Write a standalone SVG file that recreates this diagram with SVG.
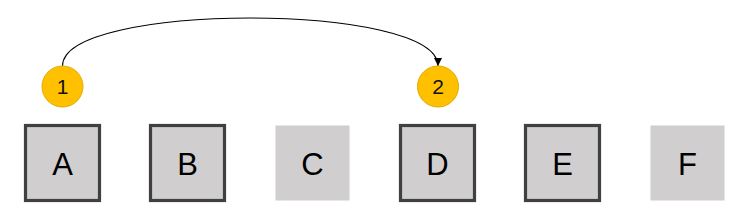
<svg xmlns="http://www.w3.org/2000/svg" width="753" height="223" viewBox="0 0 753 223">
<style>
.box{fill:#D0CECE}
.bd{stroke:#404040;stroke-width:3.2}
.lbl{font-family:"Liberation Sans",Arial,sans-serif;font-size:31px;fill:#000;text-anchor:middle}
.badge{fill:#FFC000;stroke:#E3AA00;stroke-width:1}
.num{font-family:"Liberation Sans",Arial,sans-serif;font-size:21px;fill:#111;text-anchor:middle}
.conn{fill:none;stroke:#000;stroke-width:1.1}
</style>
<defs>
<marker id="ah" viewBox="0 0 10 10" refX="10" refY="5" markerWidth="8" markerHeight="8" markerUnits="userSpaceOnUse" orient="auto">
<path d="M0,0 L10,5 L0,10 z" fill="#000"/>
</marker>
</defs>
<rect width="753" height="223" fill="#fff"/>
<g id="connectors">
<path class="conn" d="M62.5,66 C62.5,2 438,2 438,66" marker-end="url(#ah)"/>
</g>
<g id="badge1"><circle class="badge" cx="62.5" cy="86.5" r="20.5"/><text class="num" x="62.5" y="94">1</text></g>
<g id="badge2"><circle class="badge" cx="438" cy="86.5" r="20.5"/><text class="num" x="438" y="94">2</text></g>
<g id="A"><rect class="box bd" x="25.5" y="125.5" width="74" height="75"/><text class="lbl" x="62.5" y="175">A</text></g>
<g id="B"><rect class="box bd" x="150.5" y="125.5" width="74" height="75"/><text class="lbl" x="187.5" y="175">B</text></g>
<g id="C"><rect class="box" x="275.5" y="125.5" width="74" height="75"/><text class="lbl" x="312.5" y="175">C</text></g>
<g id="D"><rect class="box bd" x="400.5" y="125.5" width="74" height="75"/><text class="lbl" x="437.5" y="175">D</text></g>
<g id="E"><rect class="box bd" x="525.5" y="125.5" width="74" height="75"/><text class="lbl" x="562.5" y="175">E</text></g>
<g id="F"><rect class="box" x="650.5" y="125.5" width="74" height="75"/><text class="lbl" x="687.5" y="175">F</text></g>
</svg>
